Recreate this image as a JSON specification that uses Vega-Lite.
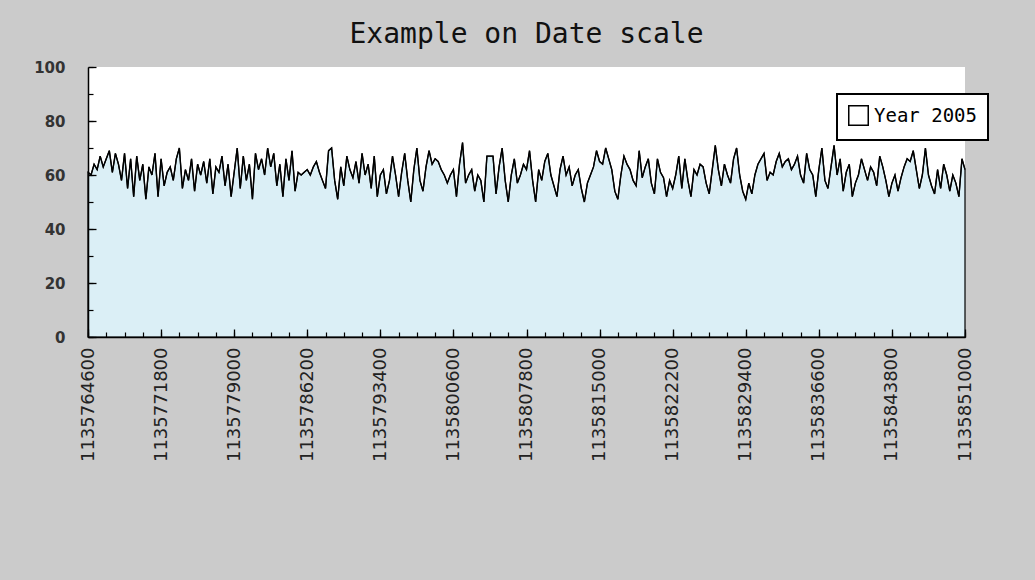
{
"$schema": "https://vega.github.io/schema/vega-lite/v6.json",
"width": 877, "height": 270,
"autosize": {"type": "none"},
"padding": {"left": 88, "top": 67, "right": 70, "bottom": 243},
"background": "#cbcbcb",
"title": {"text": "Example on Date scale", "font": "DejaVu Sans Mono", "fontSize": 28, "fontWeight": "normal", "color": "#111111", "offset": 11, "anchor": "middle"},
"data": {"values": [
{"t":1135764600,"v":61},{"t":1135764900,"v":60},{"t":1135765200,"v":64},{"t":1135765500,"v":62},{"t":1135765800,"v":67},{"t":1135766100,"v":63},{"t":1135766400,"v":66},{"t":1135766700,"v":69},{"t":1135767000,"v":61},{"t":1135767300,"v":68},
{"t":1135767600,"v":64},{"t":1135767900,"v":58},{"t":1135768200,"v":68},{"t":1135768500,"v":55},{"t":1135768800,"v":66},{"t":1135769100,"v":52},{"t":1135769400,"v":67},{"t":1135769700,"v":58},{"t":1135770000,"v":64},{"t":1135770300,"v":51},
{"t":1135770600,"v":63},{"t":1135770900,"v":60},{"t":1135771200,"v":68},{"t":1135771500,"v":52},{"t":1135771800,"v":66},{"t":1135772100,"v":56},{"t":1135772400,"v":61},{"t":1135772700,"v":63},{"t":1135773000,"v":58},{"t":1135773300,"v":66},
{"t":1135773600,"v":70},{"t":1135773900,"v":55},{"t":1135774200,"v":62},{"t":1135774500,"v":58},{"t":1135774800,"v":66},{"t":1135775100,"v":54},{"t":1135775400,"v":64},{"t":1135775700,"v":60},{"t":1135776000,"v":65},{"t":1135776300,"v":57},
{"t":1135776600,"v":66},{"t":1135776900,"v":53},{"t":1135777200,"v":63},{"t":1135777500,"v":61},{"t":1135777800,"v":67},{"t":1135778100,"v":56},{"t":1135778400,"v":64},{"t":1135778700,"v":52},{"t":1135779000,"v":61},{"t":1135779300,"v":70},
{"t":1135779600,"v":55},{"t":1135779900,"v":67},{"t":1135780200,"v":58},{"t":1135780500,"v":64},{"t":1135780800,"v":51},{"t":1135781100,"v":68},{"t":1135781400,"v":62},{"t":1135781700,"v":66},{"t":1135782000,"v":60},{"t":1135782300,"v":70},
{"t":1135782600,"v":63},{"t":1135782900,"v":68},{"t":1135783200,"v":56},{"t":1135783500,"v":64},{"t":1135783800,"v":52},{"t":1135784100,"v":66},{"t":1135784400,"v":58},{"t":1135784700,"v":69},{"t":1135785000,"v":54},{"t":1135785300,"v":61},
{"t":1135785600,"v":60},{"t":1135785900,"v":61},{"t":1135786200,"v":62},{"t":1135786500,"v":60},{"t":1135786800,"v":63},{"t":1135787100,"v":65},{"t":1135787400,"v":61},{"t":1135787700,"v":58},{"t":1135788000,"v":55},{"t":1135788300,"v":69},
{"t":1135788600,"v":70},{"t":1135788900,"v":58},{"t":1135789200,"v":51},{"t":1135789500,"v":63},{"t":1135789800,"v":56},{"t":1135790100,"v":67},{"t":1135790400,"v":62},{"t":1135790700,"v":59},{"t":1135791000,"v":65},{"t":1135791300,"v":57},
{"t":1135791600,"v":68},{"t":1135791900,"v":60},{"t":1135792200,"v":64},{"t":1135792500,"v":55},{"t":1135792800,"v":67},{"t":1135793100,"v":52},{"t":1135793400,"v":60},{"t":1135793700,"v":62},{"t":1135794000,"v":53},{"t":1135794300,"v":58},
{"t":1135794600,"v":67},{"t":1135794900,"v":60},{"t":1135795200,"v":52},{"t":1135795500,"v":61},{"t":1135795800,"v":68},{"t":1135796100,"v":58},{"t":1135796400,"v":50},{"t":1135796700,"v":62},{"t":1135797000,"v":70},{"t":1135797300,"v":58},
{"t":1135797600,"v":54},{"t":1135797900,"v":63},{"t":1135798200,"v":69},{"t":1135798500,"v":64},{"t":1135798800,"v":66},{"t":1135799100,"v":65},{"t":1135799400,"v":62},{"t":1135799700,"v":60},{"t":1135800000,"v":57},{"t":1135800300,"v":60},
{"t":1135800600,"v":62},{"t":1135800900,"v":52},{"t":1135801200,"v":64},{"t":1135801500,"v":72},{"t":1135801800,"v":57},{"t":1135802100,"v":60},{"t":1135802400,"v":62},{"t":1135802700,"v":54},{"t":1135803000,"v":60},{"t":1135803300,"v":58},
{"t":1135803600,"v":50},{"t":1135803900,"v":67},{"t":1135804200,"v":67},{"t":1135804500,"v":67},{"t":1135804800,"v":53},{"t":1135805100,"v":63},{"t":1135805400,"v":70},{"t":1135805700,"v":58},{"t":1135806000,"v":50},{"t":1135806300,"v":60},
{"t":1135806600,"v":66},{"t":1135806900,"v":57},{"t":1135807200,"v":60},{"t":1135807500,"v":64},{"t":1135807800,"v":62},{"t":1135808100,"v":69},{"t":1135808400,"v":58},{"t":1135808700,"v":50},{"t":1135809000,"v":62},{"t":1135809300,"v":58},
{"t":1135809600,"v":65},{"t":1135809900,"v":68},{"t":1135810200,"v":60},{"t":1135810500,"v":56},{"t":1135810800,"v":52},{"t":1135811100,"v":62},{"t":1135811400,"v":67},{"t":1135811700,"v":60},{"t":1135812000,"v":63},{"t":1135812300,"v":56},
{"t":1135812600,"v":60},{"t":1135812900,"v":62},{"t":1135813200,"v":55},{"t":1135813500,"v":50},{"t":1135813800,"v":57},{"t":1135814100,"v":60},{"t":1135814400,"v":63},{"t":1135814700,"v":69},{"t":1135815000,"v":65},{"t":1135815300,"v":64},
{"t":1135815600,"v":70},{"t":1135815900,"v":66},{"t":1135816200,"v":62},{"t":1135816500,"v":54},{"t":1135816800,"v":51},{"t":1135817100,"v":60},{"t":1135817400,"v":67},{"t":1135817700,"v":64},{"t":1135818000,"v":62},{"t":1135818300,"v":58},
{"t":1135818600,"v":56},{"t":1135818900,"v":69},{"t":1135819200,"v":59},{"t":1135819500,"v":63},{"t":1135819800,"v":66},{"t":1135820100,"v":57},{"t":1135820400,"v":53},{"t":1135820700,"v":66},{"t":1135821000,"v":61},{"t":1135821300,"v":59},
{"t":1135821600,"v":52},{"t":1135821900,"v":58},{"t":1135822200,"v":55},{"t":1135822500,"v":60},{"t":1135822800,"v":67},{"t":1135823100,"v":55},{"t":1135823400,"v":66},{"t":1135823700,"v":58},{"t":1135824000,"v":52},{"t":1135824300,"v":62},
{"t":1135824600,"v":60},{"t":1135824900,"v":64},{"t":1135825200,"v":63},{"t":1135825500,"v":57},{"t":1135825800,"v":53},{"t":1135826100,"v":62},{"t":1135826400,"v":71},{"t":1135826700,"v":62},{"t":1135827000,"v":56},{"t":1135827300,"v":64},
{"t":1135827600,"v":60},{"t":1135827900,"v":57},{"t":1135828200,"v":66},{"t":1135828500,"v":70},{"t":1135828800,"v":60},{"t":1135829100,"v":54},{"t":1135829400,"v":51},{"t":1135829700,"v":57},{"t":1135830000,"v":53},{"t":1135830300,"v":60},
{"t":1135830600,"v":64},{"t":1135830900,"v":66},{"t":1135831200,"v":68},{"t":1135831500,"v":58},{"t":1135831800,"v":61},{"t":1135832100,"v":60},{"t":1135832400,"v":65},{"t":1135832700,"v":68},{"t":1135833000,"v":63},{"t":1135833300,"v":65},
{"t":1135833600,"v":66},{"t":1135833900,"v":62},{"t":1135834200,"v":64},{"t":1135834500,"v":67},{"t":1135834800,"v":60},{"t":1135835100,"v":57},{"t":1135835400,"v":68},{"t":1135835700,"v":62},{"t":1135836000,"v":60},{"t":1135836300,"v":52},
{"t":1135836600,"v":62},{"t":1135836900,"v":70},{"t":1135837200,"v":58},{"t":1135837500,"v":55},{"t":1135837800,"v":63},{"t":1135838100,"v":71},{"t":1135838400,"v":60},{"t":1135838700,"v":66},{"t":1135839000,"v":54},{"t":1135839300,"v":61},
{"t":1135839600,"v":64},{"t":1135839900,"v":52},{"t":1135840200,"v":57},{"t":1135840500,"v":60},{"t":1135840800,"v":66},{"t":1135841100,"v":62},{"t":1135841400,"v":58},{"t":1135841700,"v":63},{"t":1135842000,"v":61},{"t":1135842300,"v":56},
{"t":1135842600,"v":67},{"t":1135842900,"v":63},{"t":1135843200,"v":58},{"t":1135843500,"v":52},{"t":1135843800,"v":57},{"t":1135844100,"v":60},{"t":1135844400,"v":54},{"t":1135844700,"v":59},{"t":1135845000,"v":63},{"t":1135845300,"v":66},
{"t":1135845600,"v":65},{"t":1135845900,"v":69},{"t":1135846200,"v":62},{"t":1135846500,"v":55},{"t":1135846800,"v":60},{"t":1135847100,"v":70},{"t":1135847400,"v":60},{"t":1135847700,"v":56},{"t":1135848000,"v":53},{"t":1135848300,"v":62},
{"t":1135848600,"v":55},{"t":1135848900,"v":64},{"t":1135849200,"v":60},{"t":1135849500,"v":54},{"t":1135849800,"v":60},{"t":1135850100,"v":57},{"t":1135850400,"v":52},{"t":1135850700,"v":66},{"t":1135851000,"v":62}
]},
"layer": [
{"mark": {"type": "area", "fill": "#dbeff6", "stroke": "black", "strokeWidth": 1.2},
 "encoding": {
  "x": {"field": "t", "type": "quantitative", "scale": {"domain": [1135764600, 1135851000], "nice": false, "zero": false},
   "axis": {"orient": "bottom", "zindex": 1, "values": [1135764600,1135771800,1135779000,1135786200,1135793400,1135800600,1135807800,1135815000,1135822200,1135829400,1135836600,1135843800,1135851000],
    "format": "d", "labelAngle": 270, "labelFont": "DejaVu Sans", "labelFontSize": 18, "labelColor": "#222222", "labelPadding": 18,
    "labelOverlap": false, "labelFlush": false, "labelBound": false,
    "tickSize": -8, "tickColor": "black", "tickWidth": 1.3, "domainColor": "black", "domainWidth": 1.5, "grid": false, "title": null}},
  "y": {"field": "v", "type": "quantitative", "scale": {"domain": [0, 100], "nice": false},
   "axis": {"orient": "left", "zindex": 1, "values": [0,20,40,60,80,100], "labelFont": "DejaVu Sans", "labelFontSize": 15, "labelFontWeight": "bold", "labelColor": "#333333", "labelPadding": 31,
    "labelOverlap": false, "labelFlush": false, "labelBound": false,
    "tickSize": -8, "tickColor": "black", "tickWidth": 1.3, "domainColor": "black", "domainWidth": 1.5, "grid": false, "title": null}}
 }},
{"mark": {"type": "line", "stroke": "black", "strokeWidth": 1.4},
 "encoding": {
  "x": {"field": "t", "type": "quantitative",
   "axis": {"orient": "bottom", "zindex": 1, "values": [1135764600,1135766400,1135768200,1135770000,1135771800,1135773600,1135775400,1135777200,1135779000,1135780800,1135782600,1135784400,1135786200,1135788000,1135789800,1135791600,1135793400,1135795200,1135797000,1135798800,1135800600,1135802400,1135804200,1135806000,1135807800,1135809600,1135811400,1135813200,1135815000,1135816800,1135818600,1135820400,1135822200,1135824000,1135825800,1135827600,1135829400,1135831200,1135833000,1135834800,1135836600,1135838400,1135840200,1135842000,1135843800,1135845600,1135847400,1135849200,1135851000],
    "labels": false, "domain": false, "tickSize": -5, "tickColor": "black", "tickWidth": 1.2, "grid": false, "title": null}},
  "y": {"field": "v", "type": "quantitative",
   "axis": {"orient": "left", "zindex": 1, "values": [0,10,20,30,40,50,60,70,80,90,100], "labels": false, "domain": false, "tickSize": -5, "tickColor": "black", "tickWidth": 1.2, "grid": false, "title": null}},
  "color": {"datum": "Year 2005", "scale": {"range": ["black"]},
   "legend": {"orient": "none", "legendX": 749, "legendY": 27, "title": null, "symbolType": "square", "symbolSize": 380, "symbolStrokeColor": "black", "symbolFillColor": "white", "symbolStrokeWidth": 1.5,
    "labelFont": "DejaVu Sans Mono", "labelFontSize": 19, "labelColor": "black", "labelOffset": 5, "fillColor": "white", "strokeColor": "black", "padding": 11}}
 }}
],
"resolve": {"axis": {"x": "independent", "y": "independent"}},
"config": {"view": {"fill": "white", "stroke": null}, "legend": {"strokeWidth": 2}}
}
